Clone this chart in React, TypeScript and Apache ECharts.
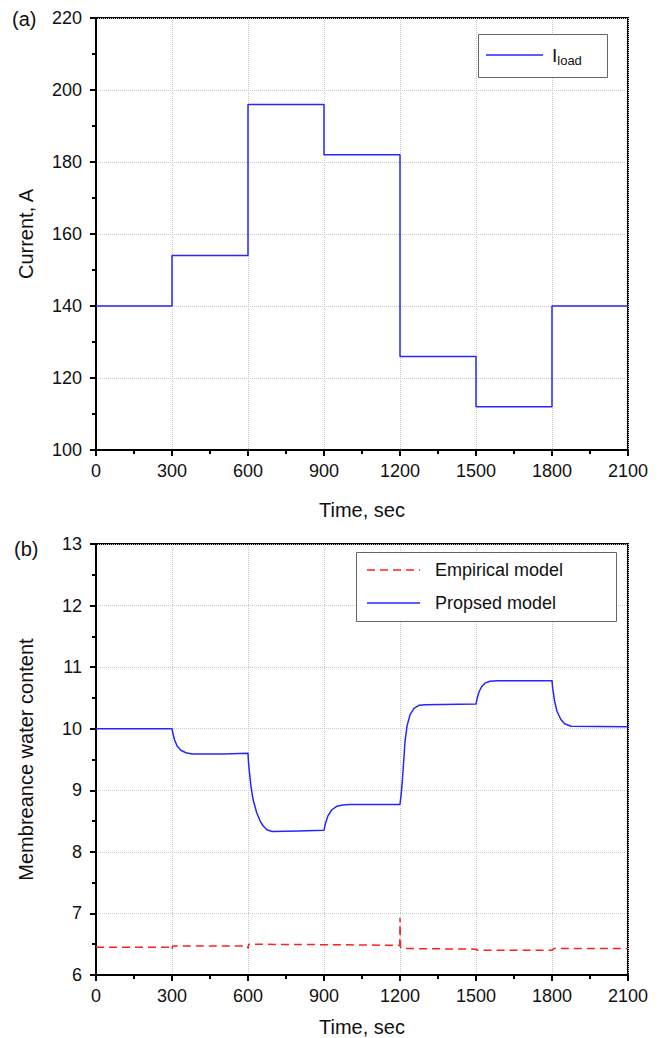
import React, { useEffect, useRef } from "react";
import * as echarts from "echarts";

// ---- Data ----
const loadTime = [0, 300, 600, 900, 1200, 1500, 1800, 2100];
const loadCurrent = [140, 154, 196, 182, 126, 112, 140, 140];

const propTime = [
  0, 300, 303, 310, 320, 335, 355, 380, 500, 600,
  602, 606, 612, 620, 634, 648, 660, 675, 695, 800, 900,
  905, 915, 930, 950, 975, 1000, 1200,
  1205, 1210, 1215, 1220, 1228, 1240, 1255, 1275, 1300, 1500,
  1505, 1512, 1522, 1535, 1555, 1585, 1800,
  1803, 1810, 1820, 1835, 1850, 1875, 2100,
];
const propWater = [
  10.0, 10.0, 9.93, 9.82, 9.72, 9.65, 9.61, 9.59, 9.59, 9.6,
  9.45, 9.28, 9.05, 8.85, 8.64, 8.5, 8.42, 8.36, 8.33, 8.34, 8.35,
  8.45, 8.58, 8.68, 8.74, 8.76, 8.77, 8.77,
  8.95, 9.2, 9.5, 9.8, 10.05, 10.23, 10.33, 10.38, 10.39, 10.4,
  10.5, 10.6, 10.68, 10.74, 10.77, 10.78, 10.78,
  10.65, 10.45, 10.28, 10.15, 10.08, 10.04, 10.03,
];

const empTime = [0, 299, 300, 302, 599, 600, 603, 1000, 1199, 1200, 1202, 1210, 1500, 1505, 1800, 1808, 2100];
const empWater = [6.45, 6.45, 6.42, 6.47, 6.47, 6.43, 6.5, 6.49, 6.48, 6.93, 6.45, 6.43, 6.42, 6.4, 6.4, 6.43, 6.43];

const xTicks = { min: 0, max: 2100, interval: 300 };
const yTopTicks = { min: 100, max: 220, interval: 20 };
const yBotTicks = { min: 6, max: 13, interval: 1 };

const FONT = "Liberation Sans, Arial, sans-serif";
const BLUE = "#2626ff";
const RED = "#ff2020";
const DASH = [8, 5];

function zip(xs: number[], ys: number[]) {
  return xs.map((x, i) => [x, ys[i]]);
}

export default function App() {
  const ref = useRef<HTMLDivElement>(null);
  useEffect(() => {
    document.body.style.margin = "0";
    if (!ref.current) return;
    const chart = echarts.init(ref.current, undefined, { renderer: "svg" });

    const common = {
      axisLine: { show: true, lineStyle: { color: "#000", width: 2 } },
      axisTick: { show: true, length: 6, lineStyle: { color: "#000", width: 2 } },
      minorTick: { show: true, splitNumber: 2, length: 4, lineStyle: { color: "#000", width: 2 } },
      splitLine: { show: true, lineStyle: { color: "#c8c8c8", type: "dotted" as const, width: 1 } },
      nameLocation: "middle" as const,
      nameTextStyle: { fontFamily: FONT, fontSize: 20, color: "#111" },
    };
    const xAxisBase = (gridIndex: number, nameGap: number) => ({
      type: "value" as const,
      gridIndex,
      ...xTicks,
      ...common,
      name: "Time, sec",
      nameGap,
      axisLabel: { fontFamily: FONT, fontSize: 18, color: "#111", margin: 12, formatter: (v: number) => String(v) },
    });
    const yAxisBase = (gridIndex: number, ticks: any, name: string) => ({
      type: "value" as const,
      gridIndex,
      ...ticks,
      ...common,
      name,
      nameGap: 60,
      axisLabel: { fontFamily: FONT, fontSize: 18, color: "#111", margin: 14, formatter: (v: number) => String(v) },
    });

    const legendText = (x: number, y: number, text: string, rich?: any) => ({
      type: "text",
      x,
      y,
      z: 101,
      style: { text, fontFamily: FONT, fontSize: 18, fill: "#111", verticalAlign: "middle", align: "left", rich },
    });
    const legendLine = (x1: number, x2: number, y: number, color: string, dash?: number[]) => ({
      type: "line",
      z: 101,
      shape: { x1, y1: y, x2, y2: y },
      style: { stroke: color, lineWidth: 1.5, lineDash: dash },
    });

    chart.setOption({
      animation: false,
      backgroundColor: "#fff",
      grid: [
        { left: 96, top: 18, width: 532, height: 432, show: true, borderColor: "#000", borderWidth: 2, backgroundColor: "transparent" },
        { left: 96, top: 544, width: 532, height: 432, show: true, borderColor: "#000", borderWidth: 2, backgroundColor: "transparent" },
      ],
      xAxis: [xAxisBase(0, 50), xAxisBase(1, 42)],
      yAxis: [
        yAxisBase(0, yTopTicks, "Current, A"),
        yAxisBase(1, yBotTicks, "Membreance water content"),
      ],
      graphic: [
        { type: "text", left: 12, top: 9, style: { text: "(a)", fontFamily: FONT, fontSize: 20, fill: "#111" } },
        { type: "text", left: 14, top: 539, style: { text: "(b)", fontFamily: FONT, fontSize: 20, fill: "#111" } },
        // legend (a)
        { type: "rect", z: 100, shape: { x: 478.5, y: 34.5, width: 129, height: 43 }, style: { fill: "#fff", stroke: "#666", lineWidth: 1 } },
        legendLine(486, 543, 55, BLUE),
        legendText(552, 55, "{i|I}{s|load}", {
          i: { fontFamily: FONT, fontSize: 19, fill: "#111" },
          s: { fontFamily: FONT, fontSize: 13, fill: "#111", padding: [10, 0, 0, 0] },
        }),
        // legend (b)
        { type: "rect", z: 100, shape: { x: 356.5, y: 552.5, width: 260, height: 69 }, style: { fill: "#fff", stroke: "#666", lineWidth: 1 } },
        legendLine(367, 420, 570, RED, DASH),
        legendText(435, 570, "Empirical model"),
        legendLine(367, 420, 603, BLUE),
        legendText(435, 603, "Propsed model"),
      ],
      series: [
        {
          name: "Iload",
          type: "line",
          xAxisIndex: 0,
          yAxisIndex: 0,
          step: "end",
          showSymbol: false,
          symbol: "none",
          data: zip(loadTime, loadCurrent),
          lineStyle: { color: BLUE, width: 1.5 },
          itemStyle: { color: BLUE },
        },
        {
          name: "Empirical model",
          type: "line",
          xAxisIndex: 1,
          yAxisIndex: 1,
          showSymbol: false,
          symbol: "none",
          data: zip(empTime, empWater),
          lineStyle: { color: RED, width: 1.5, type: DASH },
          itemStyle: { color: RED },
        },
        {
          name: "Propsed model",
          type: "line",
          xAxisIndex: 1,
          yAxisIndex: 1,
          showSymbol: false,
          symbol: "none",
          data: zip(propTime, propWater),
          lineStyle: { color: BLUE, width: 1.5 },
          itemStyle: { color: BLUE },
        },
      ],
    });
    return () => chart.dispose();
  }, []);
  return <div ref={ref} style={{ width: 663, height: 1038 }} />;
}
